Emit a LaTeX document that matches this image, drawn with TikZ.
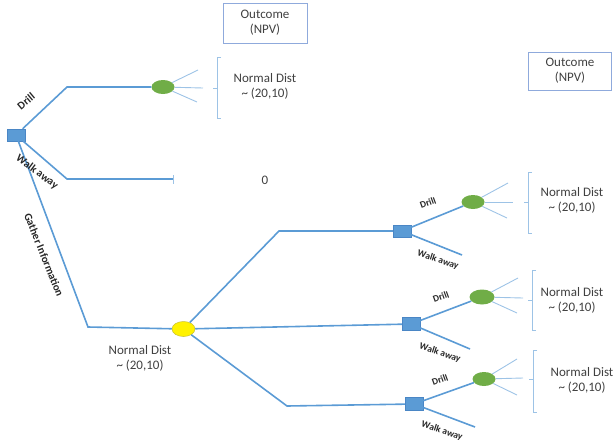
\documentclass[tikz,border=0pt]{standalone}
\usepackage{fontspec}
\setmainfont{Carlito}
\usetikzlibrary{shapes.geometric}
\definecolor{lineblue}{HTML}{5B9BD5}
\definecolor{lightblue}{HTML}{9DC3E6}
\definecolor{boxblue}{HTML}{8FAADC}
\definecolor{sqedge}{HTML}{4A86C5}
\definecolor{greenfill}{HTML}{70AD47}
\definecolor{txt}{HTML}{404040}
\begin{document}
\begin{tikzpicture}[x=1pt,y=-1pt,
 main/.style={draw=lineblue,line width=1.6pt},
 fan/.style={draw=lightblue,line width=0.9pt},
 brk/.style={draw=lightblue,line width=0.9pt},
 dec/.style={rectangle,fill=lineblue,draw=sqedge,line width=0.4pt,minimum width=18pt,minimum height=12pt,inner sep=0pt},
 chance/.style={ellipse,fill=greenfill,minimum width=23pt,minimum height=14pt,inner sep=0pt},
 ychance/.style={ellipse,fill=yellow,draw=yellow!75!black,line width=0.5pt,minimum width=23pt,minimum height=15pt,inner sep=0pt},
 lbl/.style={font=\fontsize{11}{12}\selectfont\bfseries,text=black!85,inner sep=0pt},
 slbl/.style={font=\fontsize{9.5}{10}\selectfont\bfseries,text=black!85,inner sep=0pt},
 dist/.style={font=\fontsize{13}{15}\selectfont,text=txt,align=center,inner sep=0pt},
 outbox/.style={draw=boxblue,line width=0.8pt,minimum width=84pt,minimum height=40pt,inner sep=1pt,font=\fontsize{13}{15}\selectfont,text=txt,align=center}
]
\useasboundingbox (0,0) rectangle (613,445);

% outcome boxes
\node[outbox] (ob1) at (265,23) {Outcome\\(NPV)};
\node[outbox,minimum height=38pt,minimum width=83pt] (ob2) at (570,71) {Outcome\\(NPV)};

% nodes
\node[dec] (d0) at (16,135) {};
\node[chance] (c1) at (163,87) {};
\node[ychance] (y1) at (183.5,329) {};
\node[dec] (d1) at (402,231) {};
\node[dec,minimum height=13pt] (d2) at (411,324) {};
\node[dec,minimum height=13pt] (d3) at (414,404) {};
\node[chance] (c2) at (473,202) {};
\node[chance,minimum width=25pt,minimum height=15pt] (c3) at (482,297) {};
\node[chance] (c4) at (484,379) {};

% elbow / end coordinates
\coordinate (e1) at (67,87);
\coordinate (e2) at (67,179);
\coordinate (w0) at (173,179);
\coordinate (e3) at (88,327);
\coordinate (e4) at (279,231);
\coordinate (e5) at (287,406);
\coordinate (w1) at (462,255);
\coordinate (w2) at (470,349);
\coordinate (w3) at (475,427);

% main connectors
\draw[main] (d0) -- (e1) -- (c1);
\draw[main] (d0) -- (e2) -- (w0);
\draw[fan] ([yshift=-4.5pt]w0) -- ([yshift=4.5pt]w0);
\draw[main] (d0) -- (e3) -- (y1);
\draw[main] (y1) -- (e4) -- (d1);
\draw[main] (y1) -- (d2);
\draw[main] (y1) -- (e5) -- (d3);
\draw[main] (d1) -- (c2);
\draw[main] (d1) -- (w1);
\draw[main] (d2) -- (c3);
\draw[main] (d2) -- (w2);
\draw[main] (d3) -- (c4);
\draw[main] (d3) -- (w3);

% fan lines
\coordinate (f1a) at (198,70); \coordinate (f1b) at (203,88); \coordinate (f1c) at (197,102);
\coordinate (f2a) at (508,183); \coordinate (f2b) at (513,202); \coordinate (f2c) at (507,218);
\coordinate (f3a) at (518,278); \coordinate (f3b) at (523,298); \coordinate (f3c) at (517,313);
\coordinate (f4a) at (517,359); \coordinate (f4b) at (523,378); \coordinate (f4c) at (517,395);
\foreach \c/\n in {c1/1,c2/2,c3/3,c4/4}{
  \draw[fan] (\c) -- (f\n a);
  \draw[fan] (\c) -- (f\n b);
  \draw[fan] (\c) -- (f\n c);
}

% brackets
\draw[brk] (221,57) -- (217,57) -- (217,118) -- (221,118); \draw[brk] (217,88) -- (213,88);
\draw[brk] (532,172) -- (528,172) -- (528,233) -- (532,233); \draw[brk] (528,202) -- (524,202);
\draw[brk] (536,270) -- (532,270) -- (532,330) -- (536,330); \draw[brk] (532,300) -- (528,300);
\draw[brk] (537,350) -- (533,350) -- (533,412) -- (537,412); \draw[brk] (533,379) -- (529,379);

% distribution texts
\node[dist] (t1) at (265,86) {Normal Dist\\\textasciitilde{} (20,10)};
\node[dist] (t2) at (572,200) {Normal Dist\\\textasciitilde{} (20,10)};
\node[dist] (t3) at (572,300) {Normal Dist\\\textasciitilde{} (20,10)};
\node[dist] (t4) at (582,380) {Normal Dist\\\textasciitilde{} (20,10)};
\node[dist] (t5) at (140,358) {Normal Dist\\\textasciitilde{} (20,10)};
\node[dist] (z0) at (265,180) {0};

% branch labels
\node[lbl,rotate=40] (l1) at (26,101) {Drill};
\node[lbl,rotate=-37] (l2) at (37,172) {Walk away};
\node[lbl,rotate=-68] (l3) at (44,255) {Gather Information};
\node[slbl,rotate=20] (l4) at (428,203) {Drill};
\node[slbl,rotate=-18] (l5) at (438,260) {Walk away};
\node[slbl,rotate=20] (l6) at (441,297) {Drill};
\node[slbl,rotate=-18] (l7) at (440,353) {Walk away};
\node[slbl,rotate=20] (l8) at (440,380) {Drill};
\node[slbl,rotate=-18] (l9) at (442,431) {Walk away};
\end{tikzpicture}
\end{document}
